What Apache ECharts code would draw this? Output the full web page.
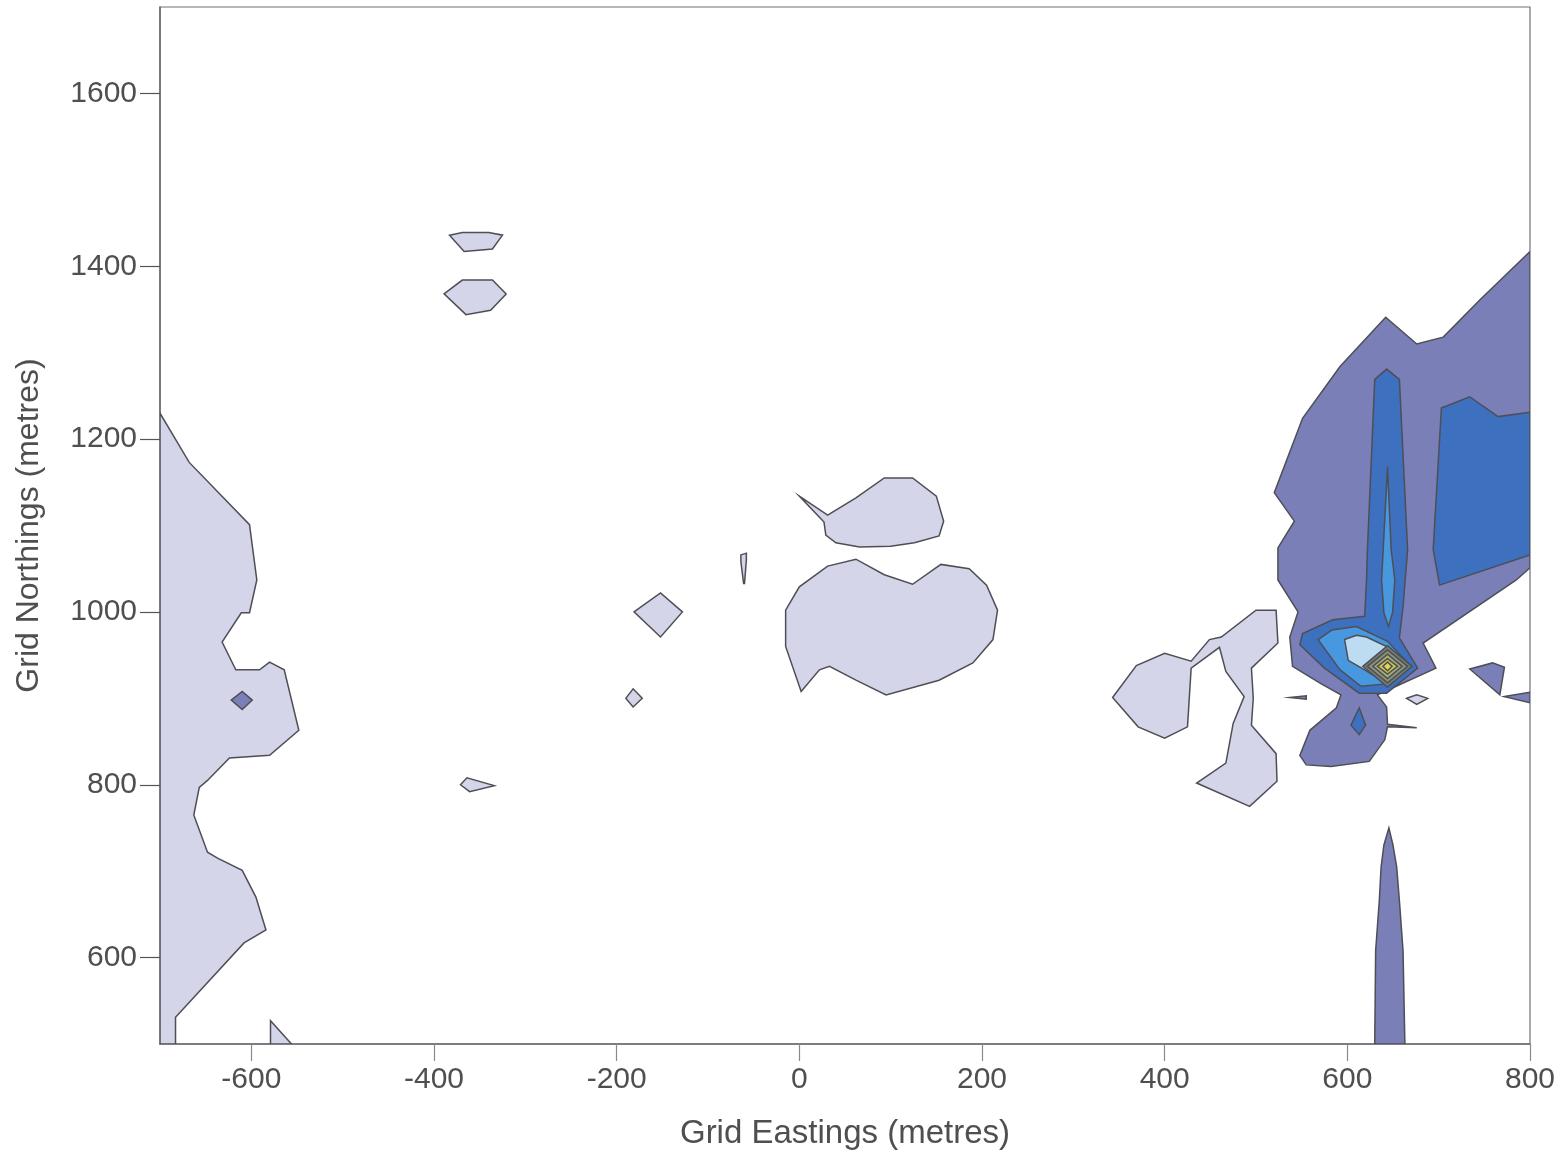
<!DOCTYPE html>
<html>
<head>
<meta charset="utf-8">
<script src="https://cdn.jsdelivr.net/npm/echarts@6/dist/echarts.min.js"></script>
<style>
html,body{margin:0;padding:0;background:#fff;}
#chart{width:1563px;height:1154px;}
</style>
</head>
<body>
<div id="chart"></div>
<script>
// ---- tick values ----
const xTicks = [-600, -400, -200, 0, 200, 400, 600, 800];
const yTicks = [600, 800, 1000, 1200, 1400, 1600];

// ---- contour polygons, vertices as [easting, northing] in metres ----
// level 1 (lightest)
const L1_westEdge = [[-700,1230],[-668,1173],[-602,1101],[-594,1037],[-602,999],[-611,999],[-632,965],[-617,933],[-591,933],[-580,942],[-564,933],[-548,863],[-580,834],[-624,831],[-648,805],[-657,797],[-663,765],[-648,722],[-637,715],[-610,701],[-595,670],[-584,632],[-608,617],[-683,531],[-683,500],[-700,500]];
const L1_westTri = [[-579,527],[-579,500],[-556,500]];
const L1_hexUpper = [[-383,1436],[-369,1439],[-340,1439],[-325,1436],[-336,1420],[-367,1417]];
const L1_hexLower = [[-389,1368],[-369,1384],[-336,1384],[-321,1368],[-338,1349],[-365,1344]];
const L1_tri800 = [[-371,800],[-364,808],[-334,799],[-361,792]];
const L1_diamond1000 = [[-181,1000],[-152,1022],[-128,1000],[-152,971]];
const L1_diamond900 = [[-190,900],[-182,911],[-172,900],[-182,890]];
const L1_sliver = [[-64,1066],[-58,1068],[-58,1060],[-60,1033],[-61,1033],[-64,1058]];
const L1_upperBlob = [[0,1134],[31,1112],[62,1132],[93,1155],[124,1155],[150,1134],[158,1105],[153,1088],[126,1080],[100,1076],[66,1075],[40,1080],[29,1089],[27,1104]];
const L1_lowerBlob = [[2,908],[-15,960],[-15,1002],[0,1029],[31,1053],[62,1061],[93,1043],[124,1032],[155,1055],[186,1050],[205,1031],[217,1002],[212,968],[190,941],[153,921],[95,904],[62,921],[33,937],[22,933]];
const L1_eastLobes = [[343,901],[369,938],[400,952],[429,943],[449,968],[462,971],[500,1002],[522,1002],[524,964],[495,935],[497,900],[495,869],[522,836],[523,804],[493,775],[435,802],[467,825],[475,871],[487,902],[467,931],[460,959],[429,935],[425,867],[400,854],[371,867]];
const L1_smallEast = [[665,900],[676,904],[688,900],[676,893]];

// level 2
const L2_bigEast = [[800,1417],[745,1361],[705,1318],[676,1310],[642,1341],[592,1284],[551,1224],[520,1138],[542,1105],[524,1074],[524,1037],[546,1000],[537,971],[540,937],[571,917],[593,904],[588,889],[559,863],[548,834],[555,823],[582,821],[624,827],[641,852],[644,867],[676,866],[644,870],[643,890],[633,904],[697,935],[683,964],[785,1037],[800,1051]];
const L2_westDiamond = [[-622,898],[-610,908],[-599,898],[-610,887]];
const L2_triEast = [[734,934],[759,941],[772,936],[767,904]];
const L2_sliverEdge = [[772,902],[800,907],[800,895]];
const L2_sliverWest = [[537,901],[555,903],[555,899]];
const L2_southSpike = [[630,500],[631,608],[635,666],[637,705],[640,730],[645.5,750],[650,730],[654,705],[657,666],[661,608],[663,500]];

// level 3
const L3_ringSpike = [[622,1072],[630,1269],[643,1281],[657,1269],[666,1072],[661,1006],[657,970],[677,935],[643,906],[613,906],[575,935],[548,962],[551,975],[584,991],[619,995],[621,1037]];
const L3_eastBlock = [[703,1236],[734,1249],[765,1226],[800,1231],[800,1066],[701,1031],[694,1072]];
const L3_smallDiamond = [[604,869],[613,889],[620,869],[613,858]];

// level 4
const L4_innerSpike = [[644,1168],[637.5,1037],[640,999],[645,983],[649.5,999],[652,1037],[648,1072]];
const L4_ring = [[568,968],[583,979],[610,983],[644,966],[670,937],[646,917],[615,914],[592,933]];

// level 5
const L5_pale = [[597,968],[610,973],[621,971],[643,960],[640,919],[619,933],[601,944]];

// core (levels 6-10)
const L6_core = [[617,937],[644,961],[671,937],[644,913]];
const L7_core = [[622,937],[644,956],[666,937],[644,918]];
const L8_core = [[628,937],[644,951],[660,937],[644,923]];
const L9_core = [[633,937],[644,946],[655,937],[644,928]];
const L10_core = [[639,937],[644,942],[649,937],[644,932]];

const levelPolys = [
  [L1_westEdge, L1_westTri, L1_hexUpper, L1_hexLower, L1_tri800, L1_diamond1000, L1_diamond900, L1_sliver, L1_upperBlob, L1_lowerBlob, L1_eastLobes, L1_smallEast],
  [L2_bigEast, L2_westDiamond, L2_triEast, L2_sliverEdge, L2_sliverWest, L2_southSpike],
  [L3_ringSpike, L3_eastBlock, L3_smallDiamond],
  [L4_innerSpike, L4_ring],
  [L5_pale],
  [L6_core],[L7_core],[L8_core],[L9_core],[L10_core]
];
const levelColors = ['#d5d5e9','#7b7fb8','#3e70c0','#4798df','#bddcf2','#727d78','#8a9478','#a6ad6e','#c6c45c','#e2d84a'];

function polySeries(polys, color, z){
  return {
    type:'custom', coordinateSystem:'cartesian2d', clip:true, silent:true, animation:false, z:z,
    data: polys.map((p,i)=>[p[0][0], p[0][1], i]),
    encode:{x:0,y:1},
    renderItem:function(params, api){
      const poly = polys[params.dataIndex];
      const pts = poly.map(pt=>api.coord(pt));
      return {type:'polygon', shape:{points:pts}, style:{fill:color, stroke:'#4e4e56', lineWidth:1.5, lineJoin:'miter'}};
    }
  };
}

const tickFont = {fontFamily:'"Liberation Sans", Arial, sans-serif', fontSize:30, color:'#4f4f4f'};
const nameFont = {fontFamily:'"Liberation Sans", Arial, sans-serif', fontSize:33, color:'#4f4f4f'};
const nameFontY = {fontFamily:'"Liberation Sans", Arial, sans-serif', fontSize:32, color:'#4f4f4f'};
const plain = v => String(v);
const chart = echarts.init(document.getElementById('chart'), null, {renderer:'canvas'});
chart.setOption({
  backgroundColor:'#ffffff',
  animation:false,
  grid:{left:160, right:33, top:7, bottom:110, containLabel:false, outerBoundsMode:'none', show:true, borderColor:'#707078', borderWidth:1.2, backgroundColor:'transparent'},
  xAxis:{
    type:'value', min:-700, max:800,
    name:'Grid Eastings (metres)', nameLocation:'middle', nameGap:73,
    nameTextStyle:Object.assign({}, nameFont),
    axisLine:{show:true, onZero:false, lineStyle:{color:'#6a6a72', width:1.5}},
    axisTick:{show:true, length:17, customValues:xTicks, lineStyle:{color:'#8a8a8a', width:1.2}},
    axisLabel:Object.assign({customValues:xTicks, margin:21, formatter:plain}, tickFont),
    splitLine:{show:false}
  },
  yAxis:{
    type:'value', min:500, max:1700,
    name:'Grid Northings (metres)', nameLocation:'middle', nameGap:115,
    nameTextStyle:Object.assign({}, nameFontY),
    axisLine:{show:true, onZero:false, lineStyle:{color:'#6a6a72', width:1.5}},
    axisTick:{show:true, length:20, customValues:yTicks, lineStyle:{color:'#555', width:1.2}},
    axisLabel:Object.assign({customValues:yTicks, margin:23, formatter:plain}, tickFont),
    splitLine:{show:false}
  },
  series: levelPolys.map((polys,i)=>polySeries(polys, levelColors[i], 2+i))
});
</script>
</body>
</html>
